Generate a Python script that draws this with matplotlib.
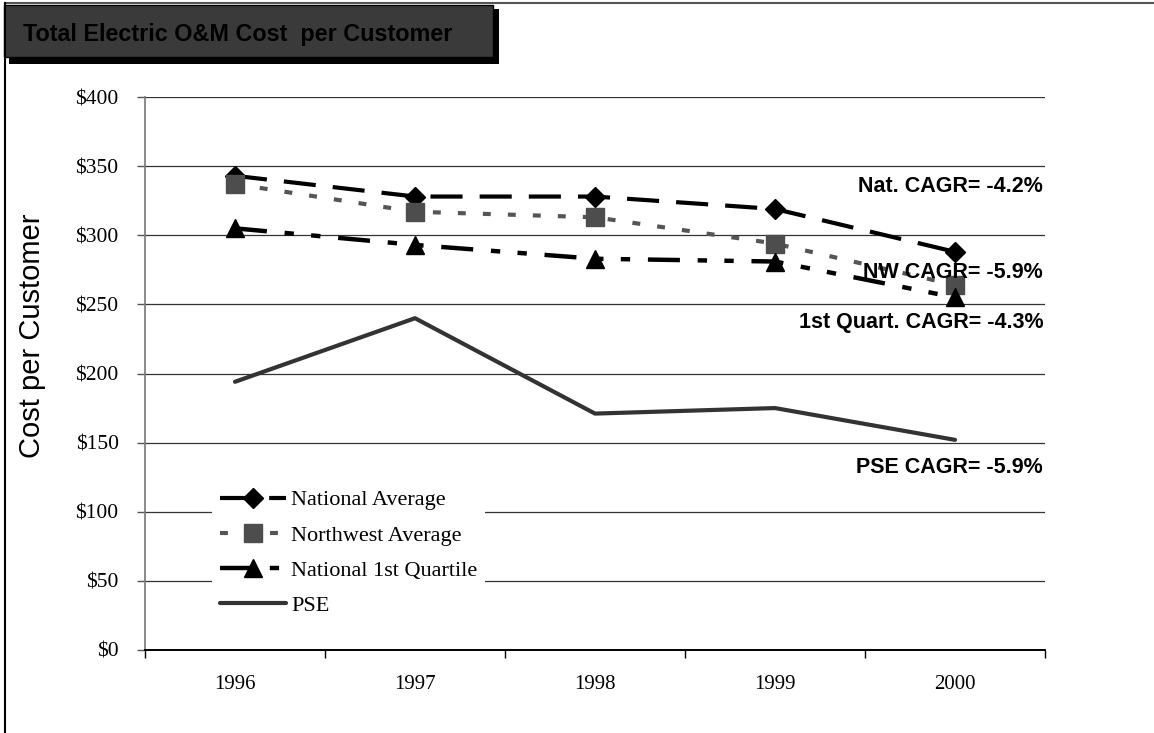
import matplotlib
matplotlib.use("Agg")
import matplotlib.pyplot as plt
from matplotlib.patches import Rectangle
from matplotlib.lines import Line2D

# ---- data ----
years = ["1996", "1997", "1998", "1999", "2000"]
national_avg = [343, 328, 328, 319, 288]
northwest_avg = [337, 317, 313, 294, 264]
national_q1 = [305, 293, 283, 281, 255]
pse = [194, 240, 171, 175, 152]
series_labels = ["National Average", "Northwest Average", "National 1st Quartile", "PSE"]
y_ticks = [0, 50, 100, 150, 200, 250, 300, 350, 400]
y_tick_labels = ["$" + str(v) for v in y_ticks]
cagr_texts = ["Nat. CAGR= -4.2%", "NW CAGR= -5.9%", "1st Quart. CAGR= -4.3%", "PSE CAGR= -5.9%"]
cagr_y = [331, 269, 233, 128]

W, H = 1154, 733
fig = plt.figure(figsize=(W / 100, H / 100), dpi=100)
fig.patch.set_facecolor("white")

def fx(px):
    return px / W

def fy(py):
    return 1 - py / H

ax = fig.add_axes([fx(145), fy(650), fx(1045) - fx(145), fy(97) - fy(650)])
x = list(range(len(years)))

serif = "Liberation Serif"
sans = "Liberation Sans"

ax.plot(x, national_avg, color="black", lw=3, linestyle=(0, (7.7, 4.1)),
        marker="D", markersize=10.5, markerfacecolor="black", markeredgecolor="black",
        label=series_labels[0], zorder=4)
ax.plot(x, northwest_avg, color="#555555", lw=3, linestyle=(0, (1.9, 4.1)),
        marker="s", markersize=12.5, markerfacecolor="#4d4d4d", markeredgecolor="#4d4d4d",
        label=series_labels[1], zorder=5)
ax.plot(x, national_q1, color="black", lw=3.2, linestyle=(0, (7.2, 4.0, 2.1, 3.9, 2.1, 4.0)),
        marker="^", markersize=13, markerfacecolor="black", markeredgecolor="black",
        label=series_labels[2], zorder=6)
ax.plot(x, pse, color="#333333", lw=3, linestyle="-", solid_capstyle="round",
        label=series_labels[3], zorder=3)

ax.set_xlim(-0.5, len(years) - 0.5)
ax.set_ylim(0, 400)
ax.set_yticks(y_ticks)
ax.set_yticklabels(y_tick_labels, fontfamily=serif, fontsize=15.5)
ax.set_xticks(x)
ax.set_xticklabels(years, fontfamily=serif, fontsize=15)
ax.set_xticks([i - 0.5 for i in range(len(years) + 1)], minor=True)
ax.tick_params(axis="x", which="major", length=0, pad=18)
ax.tick_params(axis="x", which="minor", length=6, width=1, direction="out", color="black")
ax.tick_params(axis="y", which="major", length=6, width=1, direction="out", color="#555555", pad=13)

for v in y_ticks[1:]:
    ax.axhline(v, color="#333333", lw=0.9, zorder=1)

for s in ["top", "right"]:
    ax.spines[s].set_visible(False)
ax.spines["left"].set_color("#777777")
ax.spines["left"].set_linewidth(1.2)
ax.spines["bottom"].set_color("black")
ax.spines["bottom"].set_linewidth(1.4)
ax.spines["bottom"].set_zorder(7)

# CAGR annotations
for t, yv in zip(cagr_texts, cagr_y):
    ax.text(4.49, yv, t, ha="right", va="baseline", fontfamily=sans,
            fontweight="bold", fontsize=15.5, color="black", zorder=8)

# legend
leg = ax.legend(loc="upper left", bbox_to_anchor=(fx(212), fy(482)),
                bbox_transform=fig.transFigure, prop={"family": serif, "size": 16},
                frameon=True, facecolor="white", edgecolor="none", framealpha=1,
                fancybox=False, handlelength=3.0, handletextpad=0.2, labelspacing=0.66,
                borderpad=0.35, borderaxespad=0, numpoints=1)
leg.set_zorder(10)

# y label
fig.text(fx(32), fy(336), "Cost per Customer", rotation=90, ha="center", va="center",
         fontfamily=sans, fontsize=21, color="black")

# outer frame lines
fig.add_artist(Line2D([fx(5), 1], [fy(3), fy(3)], transform=fig.transFigure,
                      color="#555555", lw=1.5))
fig.add_artist(Line2D([fx(5), fx(5)], [fy(3), 0], transform=fig.transFigure,
                      color="black", lw=1.5))

# title box with shadow
fig.add_artist(Rectangle((fx(9), fy(64)), fx(499) - fx(9), fy(9) - fy(64),
                         transform=fig.transFigure, facecolor="black", edgecolor="none"))
fig.add_artist(Rectangle((fx(4), fy(57)), fx(493) - fx(4), fy(5) - fy(57),
                         transform=fig.transFigure, facecolor="#3a3a3a", edgecolor="black", lw=1))
fig.text(fx(23), fy(41), "Total Electric O&M Cost  per Customer", ha="left", va="baseline",
         fontfamily=sans, fontweight="bold", fontsize=16.8, color="black")

fig.savefig("out.png", dpi=100)
